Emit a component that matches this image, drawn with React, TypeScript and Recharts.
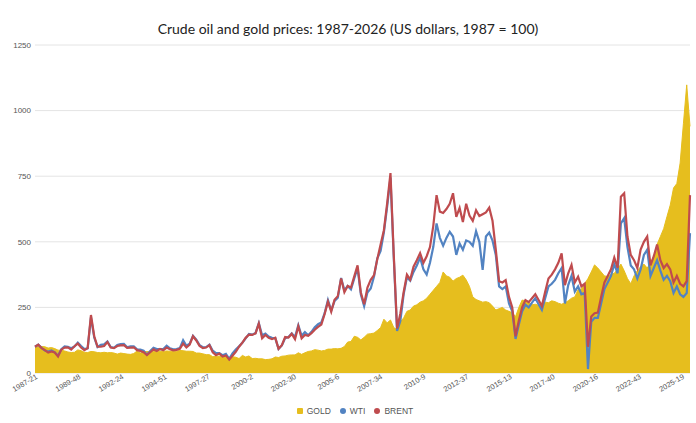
import { ComposedChart, Area, Line, XAxis, YAxis, CartesianGrid } from 'recharts'

// one sample every 10 weeks, starting 1987 week 21 (index = 100 at start)
const STEP_WEEKS = 10

const gold = [
  100, 100, 101, 100, 95, 97, 93, 87, 87, 84, 80, 78, 79, 88, 85, 79, 78, 82, 81, 78,
  77, 79, 77, 78, 76, 72, 76, 74, 72, 71, 74, 84, 76, 80, 82, 81, 83, 84, 83, 82,
  84, 83, 82, 83, 86, 85, 83, 83, 82, 76, 76, 73, 70, 70, 62, 64, 64, 61, 64, 57,
  62, 60, 55, 67, 61, 65, 55, 56, 54, 54, 51, 52, 54, 61, 59, 64, 65, 68, 69, 69,
  77, 71, 77, 82, 84, 89, 87, 84, 86, 91, 91, 93, 92, 94, 101, 118, 120, 140, 136, 126,
  136, 148, 150, 152, 162, 173, 205, 191, 202, 173, 165, 195, 210, 235, 240, 255, 260, 270, 275, 285,
  300, 315, 330, 345, 385, 370, 365, 350, 360, 365, 373, 355, 330, 290, 280, 275, 270, 272, 268, 255,
  240, 245, 250, 240, 235, 230, 215, 250, 278, 275, 270, 260, 262, 258, 265, 270, 268, 275, 272, 266,
  262, 268, 275, 285, 290, 318, 320, 340, 360, 385, 412, 400, 385, 370, 368, 375, 380, 395, 415, 390,
  360, 340, 370, 390, 405, 415, 400, 420, 445, 490, 520, 550, 596, 640, 705, 722, 800, 950, 1098, 940,
]

const wti = [
  100, 108, 96, 86, 82, 86, 79, 66, 91, 101, 100, 94, 101, 116, 103, 91, 94, 212, 135, 99,
  107, 109, 120, 99, 96, 107, 110, 111, 98, 102, 102, 90, 89, 85, 70, 84, 96, 91, 91, 91,
  104, 94, 90, 91, 95, 125, 104, 112, 142, 127, 106, 98, 99, 108, 85, 76, 76, 68, 73, 54,
  75, 90, 102, 115, 132, 149, 146, 152, 190, 144, 150, 139, 134, 133, 92, 105, 133, 137, 151, 137,
  182, 142, 156, 144, 157, 174, 186, 193, 228, 278, 238, 274, 287, 362, 315, 332, 319, 360, 400, 299,
  255, 307, 322, 368, 437, 465, 536, 635, 745, 440, 160, 198, 300, 365, 352, 385, 410, 440, 395, 375,
  420, 480, 570, 515, 485, 515, 538, 520, 450, 494, 470, 505, 500, 485, 540, 500, 393, 520, 535, 505,
  450, 330, 320, 330, 265, 235, 130, 185, 235, 260, 250, 268, 285, 262, 240, 285, 330, 340, 355, 380,
  400, 265, 335, 370, 310, 330, 300, 305, 15, 195, 210, 210, 265, 320, 345, 370, 415, 380, 570, 590,
  480, 410, 395, 360, 395, 450, 470, 370, 400, 430, 390, 355, 370, 350, 305, 330, 300, 290, 305, 533,
]

const brent = [
  100, 108, 95, 87, 78, 82, 78, 63, 89, 97, 98, 89, 102, 112, 97, 87, 95, 221, 140, 100,
  100, 103, 118, 97, 95, 103, 105, 106, 96, 97, 98, 87, 84, 79, 68, 79, 90, 84, 92, 87,
  97, 91, 86, 88, 92, 112, 97, 108, 140, 124, 103, 95, 97, 106, 79, 68, 74, 63, 67, 51,
  66, 81, 100, 116, 134, 146, 145, 151, 188, 132, 145, 134, 129, 134, 92, 106, 137, 135, 149, 129,
  178, 132, 145, 142, 152, 165, 176, 185, 225, 272, 234, 279, 293, 360, 308, 332, 326, 368, 410, 307,
  262, 326, 355, 373, 434, 490, 544, 647, 762, 450, 170, 227, 308, 375, 356, 405, 430, 457, 420, 445,
  480, 560, 678, 615, 610, 625, 645, 685, 595, 629, 575, 645, 600, 580, 620, 598, 605, 612, 630, 580,
  470, 350, 345, 354, 290, 250, 140, 200, 250, 278, 270, 285, 300, 278, 255, 310, 360, 375, 395, 420,
  456, 335, 380, 412, 345, 367, 330, 340, 100, 215, 228, 230, 290, 345, 370, 395, 440, 400, 672, 685,
  520, 450, 430, 400, 470, 500, 520, 410, 445, 490, 430, 400, 415, 395, 345, 370, 340, 330, 350, 678,
]

const tickWeeks = [0, 131, 262, 393, 524, 655, 786, 917, 1048, 1179, 1310, 1441, 1572, 1703, 1834, 1965]
const tickLabels = [
  '1987-21', '1989-48', '1992-24', '1994-51', '1997-27', '2000-2', '2002-30', '2005-6',
  '2007-34', '2010-9', '2012-37', '2015-13', '2017-40', '2020-16', '2022-43', '2025-19',
]
const yTicks = [0, 250, 500, 750, 1000, 1250]

const GOLD_COLOR = '#e6be1e'
const WTI_COLOR = '#5283c2'
const BRENT_COLOR = '#bf4b4e'

const data = gold.map((g, i) => ({
  week: i * STEP_WEEKS,
  GOLD: g,
  WTI: wti[i],
  BRENT: brent[i],
}))

const AXIS_FONT = '"Liberation Sans", Arial, sans-serif'

function WeekTick(props: any) {
  const { x, y, payload } = props
  const idx = tickWeeks.indexOf(payload.value)
  return (
    <text
      x={x}
      y={y}
      dy={6}
      textAnchor="end"
      fontSize={7.5}
      fontFamily={AXIS_FONT}
      fill="#555"
      transform={`rotate(-30 ${x} ${y})`}
    >
      {idx >= 0 ? tickLabels[idx] : ''}
    </text>
  )
}

const legendItems = [
  { name: 'GOLD', color: GOLD_COLOR, square: true },
  { name: 'WTI', color: WTI_COLOR, square: false },
  { name: 'BRENT', color: BRENT_COLOR, square: false },
]

export default function App() {
  return (
    <div
      style={{
        position: 'absolute',
        left: 0,
        top: 0,
        width: 696,
        height: 423,
        background: '#fff',
        overflow: 'hidden',
      }}
    >
      <div
        style={{
          position: 'absolute',
          left: 0,
          top: 19,
          width: 696,
          textAlign: 'center',
          fontFamily: 'Lato, "Open Sans", sans-serif',
          fontSize: 14,
          lineHeight: '20px',
          color: '#222',
        }}
      >
        Crude oil and gold prices: 1987-2026 (US dollars, 1987 = 100)
      </div>

      <ComposedChart
        width={696}
        height={423}
        data={data}
        margin={{ top: 45, right: 6, bottom: 0, left: 0 }}
      >
        <CartesianGrid vertical={false} stroke="#e4e4e4" />
        <XAxis
          dataKey="week"
          type="number"
          domain={[0, 1990]}
          ticks={tickWeeks}
          interval={0}
          height={50}
          axisLine={false}
          tickLine={false}
          tickSize={0}
          tickMargin={0}
          tick={<WeekTick />}
        />
        <YAxis
          domain={[0, 1250]}
          ticks={yTicks}
          width={35}
          axisLine={false}
          tickLine={false}
          tickSize={0}
          tickMargin={4}
          tick={{ fontSize: 8, fill: '#555', fontFamily: AXIS_FONT }}
        />
        <Area
          type="linear"
          dataKey="GOLD"
          stroke={GOLD_COLOR}
          strokeWidth={1}
          fill={GOLD_COLOR}
          fillOpacity={1}
          dot={false}
          activeDot={false}
          isAnimationActive={false}
        />
        <Line
          type="linear"
          dataKey="WTI"
          stroke={WTI_COLOR}
          strokeWidth={2.2}
          dot={false}
          activeDot={false}
          isAnimationActive={false}
        />
        <Line
          type="linear"
          dataKey="BRENT"
          stroke={BRENT_COLOR}
          strokeWidth={2.2}
          dot={false}
          activeDot={false}
          isAnimationActive={false}
        />
      </ComposedChart>

      <div
        style={{
          position: 'absolute',
          left: 0,
          top: 404,
          width: 696,
          display: 'flex',
          justifyContent: 'center',
          gap: 9,
          paddingLeft: 14,
          boxSizing: 'border-box',
          fontFamily: AXIS_FONT,
          fontSize: 8.5,
          color: '#555',
          lineHeight: '14px',
        }}
      >
        {legendItems.map(item => (
          <div key={item.name} style={{ display: 'flex', alignItems: 'center', gap: 4 }}>
            <span
              style={{
                display: 'inline-block',
                width: 6,
                height: 6,
                borderRadius: item.square ? 1 : 3,
                background: item.color,
              }}
            />
            <span>{item.name}</span>
          </div>
        ))}
      </div>
    </div>
  )
}
